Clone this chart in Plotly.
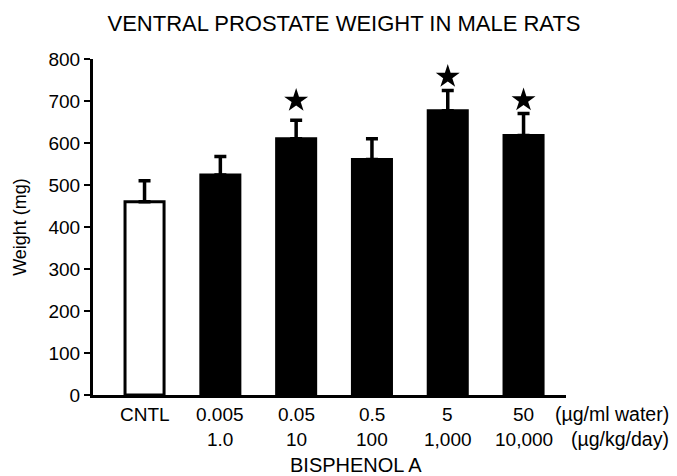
import plotly.graph_objects as go

categories = ["CNTL", "0.005", "0.05", "0.5", "5", "50"]
row1_labels = ["CNTL", "0.005", "0.05", "0.5", "5", "50"]
row2_labels = ["", "1.0", "10", "100", "1,000", "10,000"]
weights = [460, 524, 610, 561, 677, 618]
errors = [50, 44, 44, 49, 48, 52]
star_levels = [None, None, 701, None, 758, 702]
fills = ["white", "black", "black", "black", "black", "black"]
unit_labels = ["(\u00b5g/ml water)", "(\u00b5g/kg/day)"]

FONT = "Liberation Sans, Arial, Helvetica, sans-serif"
W, H = 677, 476
L, R, T, B = 93, 111, 59, 81
PH = H - T - B
x = list(range(len(categories)))


def py(pix):
    """pixel row -> paper y"""
    return (H - B - pix) / PH


fig = go.Figure()
fig.add_trace(go.Bar(
    x=x, y=weights, width=0.515,
    marker=dict(color=fills, line=dict(color="black", width=3)),
    error_y=dict(type="data", array=errors, arrayminus=[0]*len(errors),
                 symmetric=False, color="black", thickness=3.5, width=6),
    showlegend=False, hoverinfo="skip",
))
sx = [i for i, s in zip(x, star_levels) if s is not None]
sy = [s for s in star_levels if s is not None]
fig.add_trace(go.Scatter(
    x=sx, y=sy, mode="markers",
    marker=dict(symbol="star", size=18, color="black", line=dict(width=0)),
    showlegend=False, hoverinfo="skip",
))

annotations = []
for i in x:
    annotations.append(dict(x=i, y=py(414), xref="x", yref="paper", text=row1_labels[i],
                            showarrow=False, xanchor="center", yanchor="middle",
                            font=dict(family=FONT, size=19, color="black")))
    if row2_labels[i]:
        annotations.append(dict(x=i, y=py(439), xref="x", yref="paper", text=row2_labels[i],
                                showarrow=False, xanchor="center", yanchor="middle",
                                font=dict(family=FONT, size=19, color="black")))
for lab, yy in zip(unit_labels, [414, 439]):
    annotations.append(dict(x=(671 - L) / (W - L - R), y=py(yy), xref="paper", yref="paper",
                            text=lab, showarrow=False, xanchor="right", yanchor="middle",
                            font=dict(family=FONT, size=19.5, color="black")))
annotations.append(dict(x=(356 - L) / (W - L - R), y=py(465), xref="paper", yref="paper",
                        text="BISPHENOL A", showarrow=False, xanchor="center", yanchor="middle",
                        font=dict(family=FONT, size=20, color="black")))

fig.update_layout(
    width=W, height=H,
    margin=dict(l=L, r=R, t=T, b=B),
    paper_bgcolor="white", plot_bgcolor="white",
    hovermode=False,
    title=dict(text="VENTRAL PROSTATE WEIGHT IN MALE RATS", x=344 / W, xanchor="center",
               y=1 - 23 / H, yanchor="middle", yref="container",
               font=dict(family=FONT, size=22, color="black")),
    font=dict(family=FONT, color="black"),
    annotations=annotations,
    xaxis=dict(range=[-0.68, 5.56], showticklabels=False, ticks="", showgrid=False,
               zeroline=False, showline=True, linecolor="black", linewidth=3, fixedrange=True),
    yaxis=dict(range=[0, 800], tickvals=[0, 100, 200, 300, 400, 500, 600, 700, 800],
               ticks="outside", ticklen=6, tickwidth=2, tickcolor="black",
               showgrid=False, zeroline=False, showline=True, linecolor="black", linewidth=3,
               tickfont=dict(family=FONT, size=19, color="black"), fixedrange=True,
               title=dict(text="Weight (mg)", standoff=18,
                          font=dict(family=FONT, size=18, color="black"))),
)
fig.write_html("out.html", config={"displayModeBar": False, "staticPlot": True},
               post_script="document.body.style.margin='0';")
